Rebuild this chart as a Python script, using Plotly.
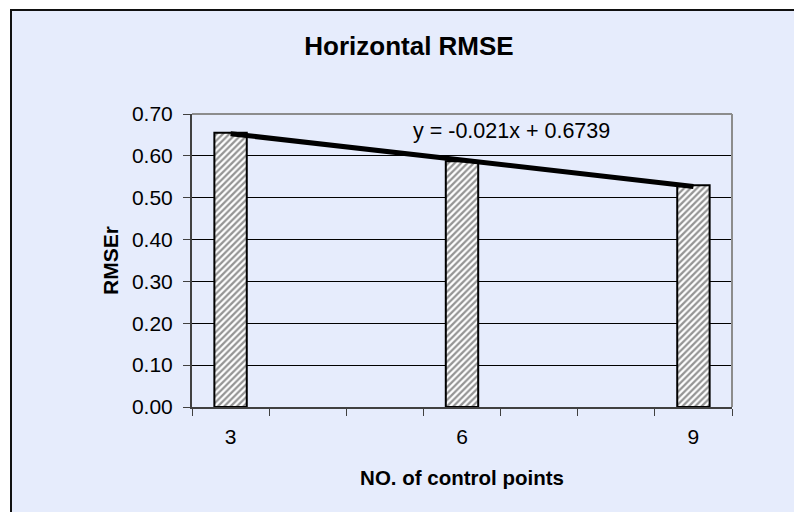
import plotly.graph_objects as go

# ---- data ----
categories = ["3", "4", "5", "6", "7", "8", "9"]
bar_x = ["3", "6", "9"]
rmse_values = [0.655, 0.587, 0.530]
trend_slope = -0.021
trend_intercept = 0.6739
trend_label = "y = -0.021x + 0.6739"
y_ticks = [0.0, 0.1, 0.2, 0.3, 0.4, 0.5, 0.6, 0.7]
x_ticktext = ["3", "", "", "6", "", "", "9"]

# trendline evaluated at Excel category indices (1..7)
idx = [categories.index(c) + 1 for c in bar_x]
trend_x = [bar_x[0], bar_x[-1]]
trend_y = [trend_slope * idx[0] + trend_intercept, trend_slope * idx[-1] + trend_intercept]

BG = "#E6ECFC"
FONT = "Liberation Sans, Arial, sans-serif"

W, H = 794, 512
L, R, T, B = 192, 62, 114, 105
pw, ph = W - L - R, H - T - B

fig = go.Figure()
fig.add_trace(go.Bar(
    x=bar_x, y=rmse_values, width=0.42,
    marker=dict(color="white", line=dict(color="black", width=2),
                pattern=dict(shape="/", fgcolor="#2a2a2a", bgcolor="white", size=4.5, solidity=0.5)),
    showlegend=False, hoverinfo="skip",
))
fig.add_trace(go.Scatter(
    x=trend_x, y=trend_y, mode="lines",
    line=dict(color="black", width=5), showlegend=False, hoverinfo="skip",
))

def px2paper_x(px):
    return (px - L) / pw

def px2paper_y(py):
    return (H - B - py) / ph

shapes = [
    # outer chart area frame
    dict(type="rect", xref="paper", yref="paper",
         x0=px2paper_x(11), x1=px2paper_x(820), y0=px2paper_y(540), y1=px2paper_y(10),
         line=dict(color="#111111", width=2), fillcolor=BG, layer="below"),
    # plot area top/right frame
    dict(type="line", xref="paper", yref="paper", x0=0, x1=1, y0=1, y1=1,
         line=dict(color="#8c8c8c", width=2)),
    dict(type="line", xref="paper", yref="paper", x0=1, x1=1, y0=0, y1=1,
         line=dict(color="#8c8c8c", width=2)),
]

fig.update_layout(
    width=W, height=H,
    margin=dict(l=L, r=R, t=T, b=B, pad=0),
    paper_bgcolor="white", plot_bgcolor=BG,
    font=dict(family=FONT, color="black", size=21),
    title=dict(text="<b>Horizontal RMSE</b>", xref="container", yref="container",
               x=409 / W, y=1 - 46 / H, xanchor="center", yanchor="middle",
               font=dict(size=26, family=FONT, color="black")),
    shapes=shapes,
    annotations=[dict(text=trend_label, xref="paper", yref="paper",
                      x=px2paper_x(511), y=px2paper_y(131), showarrow=False,
                      xanchor="center", yanchor="middle",
                      font=dict(size=21.5, family=FONT, color="black"))],
)

fig.update_xaxes(
    type="category", categoryorder="array", categoryarray=categories,
    range=[-0.5, 6.5], tickmode="array", tickvals=categories, ticktext=x_ticktext,
    tickson="boundaries", ticks="outside", ticklen=7, tickwidth=1, tickcolor="#404040",
    showline=True, linecolor="#404040", linewidth=2, showgrid=False, zeroline=False,
    ticklabelstandoff=10,
    title=dict(text="<b>NO. of control points</b>", standoff=23, font=dict(size=20.5, family=FONT)),
    tickfont=dict(size=21, family=FONT), fixedrange=True,
)
fig.update_yaxes(
    range=[0, 0.7], tickmode="array", tickvals=y_ticks, tickformat=".2f",
    ticks="outside", ticklen=7, tickwidth=1, tickcolor="#404040",
    showline=True, linecolor="#404040", linewidth=2,
    showgrid=True, gridcolor="black", gridwidth=1, zeroline=False,
    ticklabelstandoff=6,
    title=dict(text="<b>RMSEr</b>", standoff=8, font=dict(size=21, family=FONT)),
    tickfont=dict(size=21, family=FONT), fixedrange=True,
)

fig.write_html("out.html")
